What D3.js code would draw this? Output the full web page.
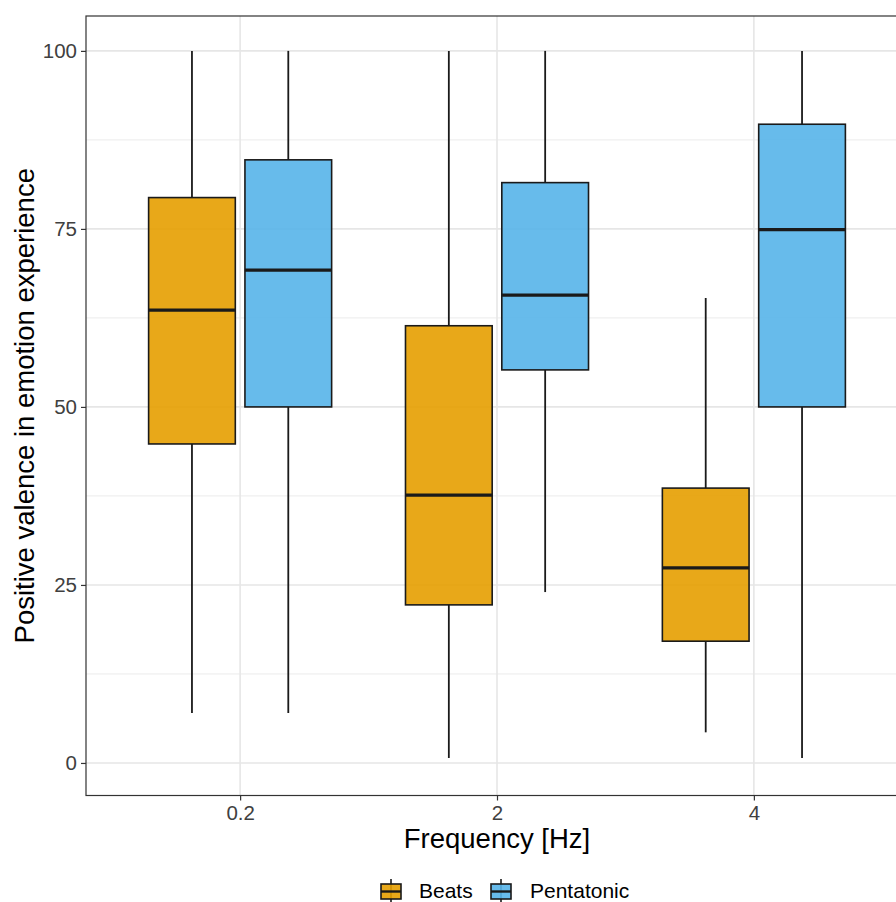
<!DOCTYPE html>
<html>
<head>
<meta charset="utf-8">
<script src="https://cdn.jsdelivr.net/npm/d3@7"></script>
<style>
  html, body { margin: 0; padding: 0; background: #fff; }
  svg { display: block; font-family: "Liberation Sans", Arial, sans-serif; }
</style>
</head>
<body>
<svg id="chart" width="896" height="902"></svg>
<script>
// ---- data ----
const categories = ["0.2", "2", "4"];
const groups = ["Beats", "Pentatonic"];
const colors = ["#E69F00", "#56B4E9"];
const yTicks = [0, 25, 50, 75, 100];
const yMinor = [12.5, 37.5, 62.5, 87.5];
// [whiskerLow, Q1, median, Q3, whiskerHigh] per category
const beats = [
  [7.0, 44.8, 63.6, 79.4, 100],
  [0.7, 22.2, 37.6, 61.4, 100],
  [4.3, 17.1, 27.4, 38.6, 65.3]
];
const pentatonic = [
  [7.0, 50.0, 69.2, 84.7, 100],
  [24.0, 55.2, 65.7, 81.5, 100],
  [0.7, 50.0, 74.9, 89.7, 100]
];
const xTitle = "Frequency [Hz]";
const yTitle = "Positive valence in emotion experience";

// ---- layout ----
const svg = d3.select("#chart");
const panel = { left: 86, right: 908, top: 16, bottom: 795.5 };

const x = d3.scalePoint().domain(categories).range([panel.left, panel.right]).padding(0.6);
const y = d3.scaleLinear().domain([-4.57, 104.9]).range([panel.bottom, panel.top]);
const step = x.step();
const dodge = d3.scaleBand().domain(groups).range([-0.375 * step, 0.375 * step]);
const boxW = dodge.bandwidth() * 0.9;

// panel background
svg.append("rect")
  .attr("x", panel.left).attr("y", panel.top)
  .attr("width", panel.right - panel.left).attr("height", panel.bottom - panel.top)
  .attr("fill", "#fff");

// grid
const grid = svg.append("g");
grid.selectAll(".minor").data(yMinor).join("line")
  .attr("x1", panel.left).attr("x2", panel.right)
  .attr("y1", d => y(d)).attr("y2", d => y(d))
  .attr("stroke", "#ebebeb").attr("stroke-width", 1);
grid.selectAll(".major").data(yTicks).join("line")
  .attr("x1", panel.left).attr("x2", panel.right)
  .attr("y1", d => y(d)).attr("y2", d => y(d))
  .attr("stroke", "#e6e6e6").attr("stroke-width", 1.6);
grid.selectAll(".vmajor").data(categories).join("line")
  .attr("x1", d => x(d)).attr("x2", d => x(d))
  .attr("y1", panel.top).attr("y2", panel.bottom)
  .attr("stroke", "#e6e6e6").attr("stroke-width", 1.6);

// boxes
const series = [beats, pentatonic];
const marks = svg.append("g");
groups.forEach((g, gi) => {
  categories.forEach((c, ci) => {
    const [lo, q1, med, q3, hi] = series[gi][ci];
    const cx = x(c) + dodge(g) + dodge.bandwidth() / 2;
    const grp = marks.append("g");
    grp.append("line").attr("x1", cx).attr("x2", cx)
      .attr("y1", y(hi)).attr("y2", y(q3))
      .attr("stroke", "#1a1a1a").attr("stroke-width", 1.8);
    grp.append("line").attr("x1", cx).attr("x2", cx)
      .attr("y1", y(q1)).attr("y2", y(lo))
      .attr("stroke", "#1a1a1a").attr("stroke-width", 1.8);
    grp.append("rect")
      .attr("x", cx - boxW / 2).attr("width", boxW)
      .attr("y", y(q3)).attr("height", y(q1) - y(q3))
      .attr("fill", colors[gi]).attr("fill-opacity", 0.9)
      .attr("stroke", "#1a1a1a").attr("stroke-width", 1.6);
    grp.append("line")
      .attr("x1", cx - boxW / 2).attr("x2", cx + boxW / 2)
      .attr("y1", y(med)).attr("y2", y(med))
      .attr("stroke", "#1a1a1a").attr("stroke-width", 3.2);
  });
});

// panel border
svg.append("rect")
  .attr("x", panel.left).attr("y", panel.top)
  .attr("width", panel.right - panel.left).attr("height", panel.bottom - panel.top)
  .attr("fill", "none").attr("stroke", "#333333").attr("stroke-width", 1.2);

// axes
const yAxis = svg.append("g").attr("transform", `translate(${panel.left},0)`)
  .call(d3.axisLeft(y).tickValues(yTicks).tickSize(5).tickPadding(4));
const xAxis = svg.append("g").attr("transform", `translate(0,${panel.bottom})`)
  .call(d3.axisBottom(x).tickSize(5).tickPadding(5));
[xAxis, yAxis].forEach(a => {
  a.select(".domain").remove();
  a.selectAll(".tick line").attr("stroke", "#333333").attr("stroke-width", 1.2);
  a.selectAll(".tick text").attr("fill", "#404040")
    .style("font-size", "20.5px").style("font-family", "Liberation Sans, Arial, sans-serif");
});

// titles
svg.append("text")
  .attr("x", 497).attr("y", 848)
  .attr("text-anchor", "middle").attr("fill", "#000")
  .style("font-size", "27.5px").text(xTitle);
svg.append("text")
  .attr("transform", `translate(34,${(panel.top + panel.bottom) / 2}) rotate(-90)`)
  .attr("text-anchor", "middle").attr("fill", "#000")
  .style("font-size", "27.5px").text(yTitle);

// legend
const legend = svg.append("g");
const keyX = [381, 491];
const textX = [419, 530];
groups.forEach((g, i) => {
  const kx = keyX[i], kw = 20, cx = kx + kw / 2;
  legend.append("line").attr("x1", cx).attr("x2", cx).attr("y1", 879).attr("y2", 905)
    .attr("stroke", "#1a1a1a").attr("stroke-width", 1.6);
  legend.append("rect").attr("x", kx).attr("y", 884).attr("width", kw).attr("height", 15)
    .attr("fill", colors[i]).attr("fill-opacity", 0.9)
    .attr("stroke", "#1a1a1a").attr("stroke-width", 1.6);
  legend.append("line").attr("x1", kx).attr("x2", kx + kw).attr("y1", 891.5).attr("y2", 891.5)
    .attr("stroke", "#1a1a1a").attr("stroke-width", 2.4);
  legend.append("text").attr("x", textX[i]).attr("y", 898)
    .attr("fill", "#000").style("font-size", "21px").text(g);
});
</script>
</body>
</html>
